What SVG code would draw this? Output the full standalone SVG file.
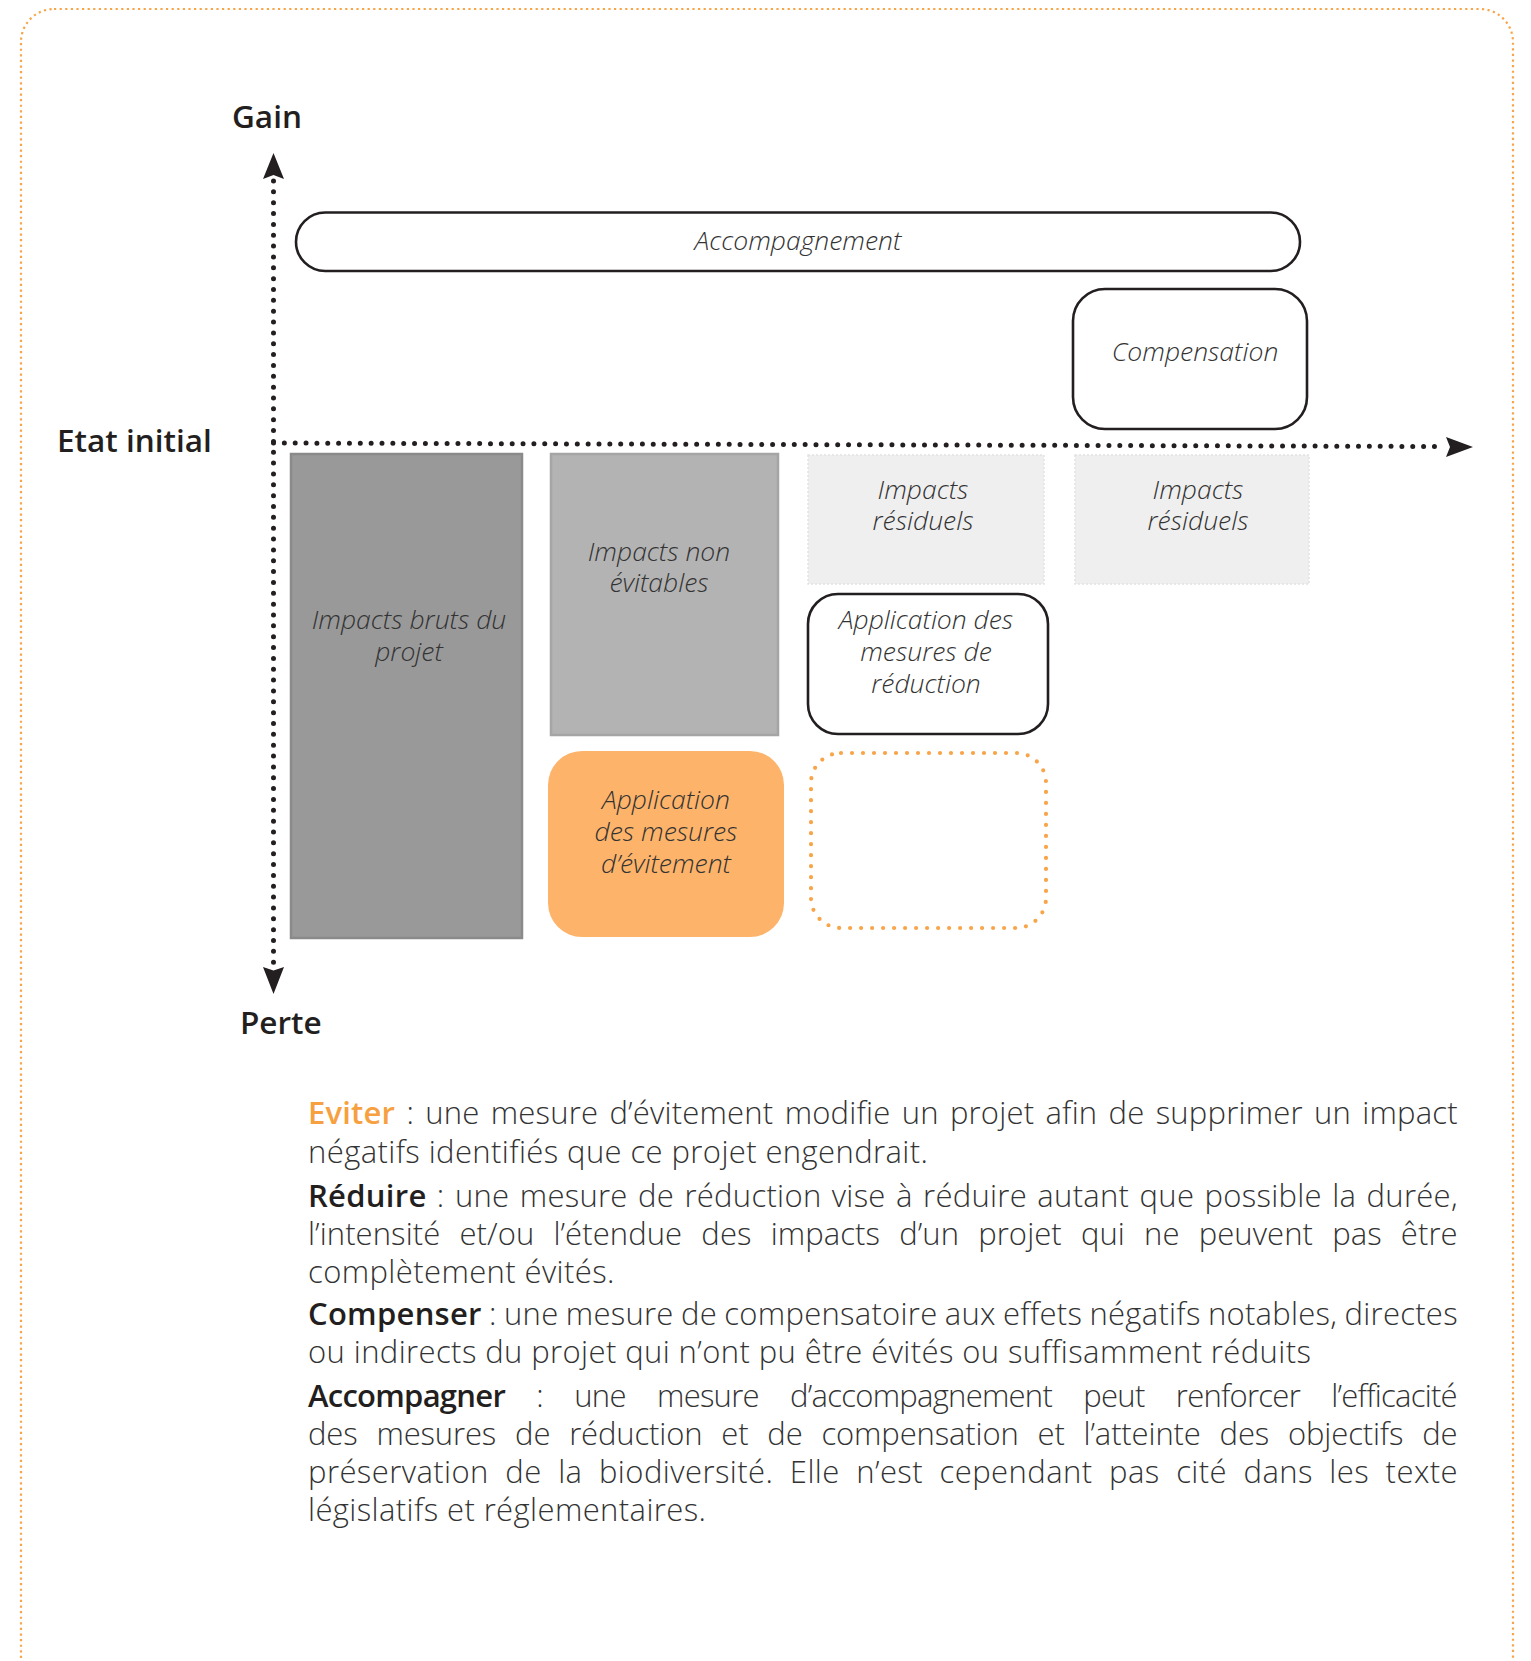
<svg xmlns="http://www.w3.org/2000/svg" width="1531" height="1661" viewBox="0 0 1531 1661">
<defs>
<style>
.frame{fill:none;stroke:#F8A54A;stroke-width:2.2;stroke-dasharray:2.2 3.4}
.axis{fill:none;stroke:#231f20;stroke-width:5;stroke-linecap:round;stroke-dasharray:0 10.85}
.head{fill:#231f20}
.lab{font-family:"Open Sans","Liberation Sans",sans-serif;font-weight:600;font-size:31.5px;fill:#231f20}
.box{font-family:"Open Sans","Liberation Sans",sans-serif;font-weight:300;font-style:italic;font-size:26.5px;fill:#333;text-anchor:middle}
.outline{fill:#fff;stroke:#231f20;stroke-width:2.6}
.body{font-family:"Open Sans","Liberation Sans",sans-serif;font-weight:300;font-size:31px;letter-spacing:0.4px;fill:#333}
.b{font-weight:600;fill:#231f20}
.o{font-weight:600;fill:#F7A040}
</style>
</defs>
<rect width="1531" height="1661" fill="#fff"/>
<rect class="frame" x="21" y="9" width="1492" height="1700" rx="33"/>

<g id="connectors">
<line class="axis" x1="273.5" y1="181" x2="273.5" y2="963"/>
<path class="head" d="M273.5,153 L284,179 L273.5,175 L263,179 Z"/>
<path class="head" d="M273.5,994 L263,967 L273.5,970.5 L284,967 Z"/>
<line class="axis" x1="273.5" y1="443" x2="1441" y2="446.5"/>
<path class="head" d="M1473,447 L1446,437 L1450,447 L1446,457 Z"/>
</g>

<g id="label-gain"><text class="lab" x="232" y="128">Gain</text></g>
<g id="label-etat"><text class="lab" x="57" y="452">Etat initial</text></g>
<g id="label-perte"><text class="lab" x="240" y="1034">Perte</text></g>

<g id="accompagnement">
<rect class="outline" x="296" y="212.5" width="1004" height="58.5" rx="29.25"/>
<text class="box" x="798" y="250">Accompagnement</text>
</g>

<g id="compensation">
<rect class="outline" x="1073" y="289" width="234" height="140" rx="32"/>
<text class="box" x="1195" y="361">Compensation</text>
</g>

<g id="impacts-bruts">
<rect x="291" y="454" width="231" height="484" fill="#999" stroke="#8a8a8a" stroke-width="2.5"/>
<text class="box" x="409" y="629">Impacts bruts du</text>
<text class="box" x="409" y="661">projet</text>
</g>

<g id="impacts-non-evitables">
<rect x="551" y="454" width="227" height="281" fill="#b3b3b3" stroke="#a5a5a5" stroke-width="2.5"/>
<text class="box" x="659" y="561">Impacts non</text>
<text class="box" x="659" y="592">évitables</text>
</g>

<g id="mesures-evitement">
<rect x="548" y="751" width="236" height="186" rx="34" fill="#FDB36A"/>
<text class="box" x="666" y="809">Application</text>
<text class="box" x="666" y="841">des mesures</text>
<text class="box" x="666" y="873">d’évitement</text>
</g>

<g id="impacts-residuels-1">
<rect x="808" y="455" width="236" height="129" fill="#efefef" stroke="#e2e2e2" stroke-width="1.5" stroke-dasharray="2 2"/>
<text class="box" x="923" y="499">Impacts</text>
<text class="box" x="923" y="530">résiduels</text>
</g>

<g id="impacts-residuels-2">
<rect x="1075" y="455" width="234" height="129" fill="#efefef" stroke="#e2e2e2" stroke-width="1.5" stroke-dasharray="2 2"/>
<text class="box" x="1198" y="499">Impacts</text>
<text class="box" x="1198" y="530">résiduels</text>
</g>

<g id="mesures-reduction">
<rect class="outline" x="808" y="594" width="240" height="140" rx="30"/>
<text class="box" x="926" y="629">Application des</text>
<text class="box" x="926" y="661">mesures de</text>
<text class="box" x="926" y="693">réduction</text>
</g>

<g id="zone-vide">
<rect x="811" y="753" width="235" height="175" rx="30" fill="none" stroke="#F8A54A" stroke-width="4.2" stroke-linecap="round" stroke-dasharray="0 11"/>
</g>

<g id="legende" class="body">
<text x="308" y="1124" textLength="1150" lengthAdjust="spacing" word-spacing="3"><tspan class="o">Eviter</tspan> : une mesure d’évitement modifie un projet afin de supprimer un impact</text>
<text x="308" y="1163">négatifs identifiés que ce projet engendrait.</text>
<text x="308" y="1207" textLength="1150" lengthAdjust="spacing" word-spacing="2"><tspan class="b">Réduire</tspan> : une mesure de réduction vise à réduire autant que possible la durée,</text>
<text x="308" y="1245" textLength="1150" lengthAdjust="spacing" word-spacing="11">l’intensité et/ou l’étendue des impacts d’un projet qui ne peuvent pas être</text>
<text x="308" y="1283">complètement évités.</text>
<text x="308" y="1325" textLength="1150" lengthAdjust="spacing" word-spacing="-1"><tspan class="b">Compenser</tspan> : une mesure de compensatoire aux effets négatifs notables, directes</text>
<text x="308" y="1363">ou indirects du projet qui n’ont pu être évités ou suffisamment réduits</text>
<text x="308" y="1407" textLength="1150" lengthAdjust="spacing" word-spacing="24"><tspan class="b">Accompagner</tspan> : une mesure d’accompagnement peut renforcer l’efficacité</text>
<text x="308" y="1445" textLength="1150" lengthAdjust="spacing" word-spacing="11">des mesures de réduction et de compensation et l’atteinte des objectifs de</text>
<text x="308" y="1483" textLength="1150" lengthAdjust="spacing" word-spacing="8">préservation de la biodiversité. Elle n’est cependant pas cité dans les texte</text>
<text x="308" y="1521">législatifs et réglementaires.</text>
</g>
</svg>
